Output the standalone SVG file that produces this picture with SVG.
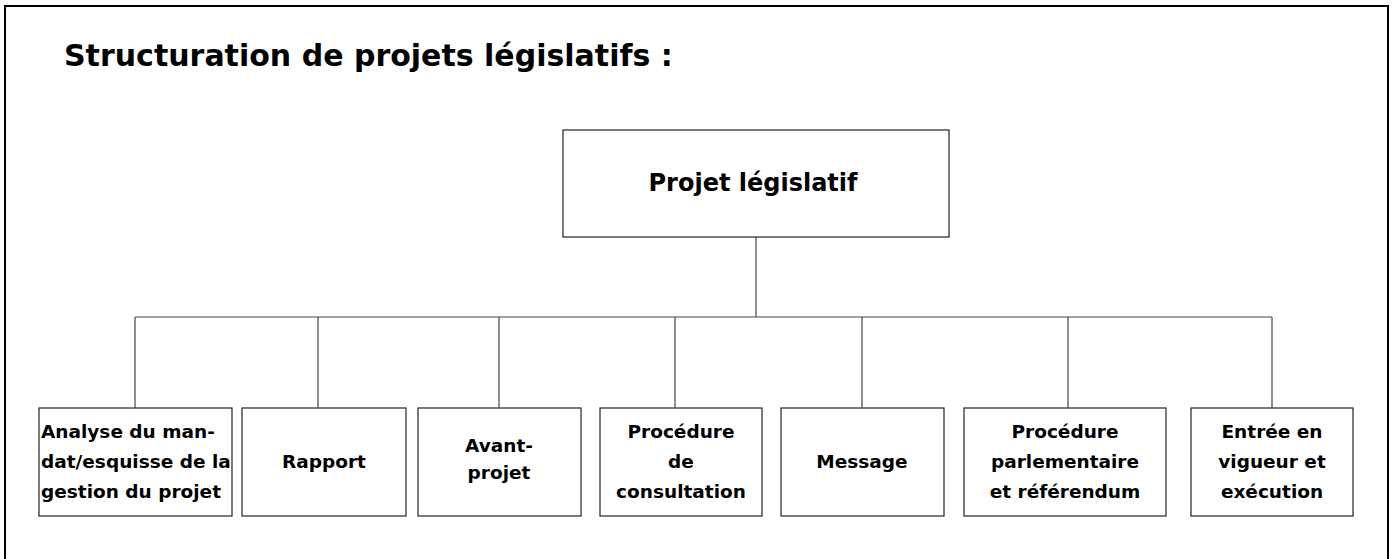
<svg xmlns="http://www.w3.org/2000/svg" width="1394" height="559" viewBox="0 0 1394 559">
<style>
.frame{fill:none;stroke:#000;stroke-width:2}
.box{fill:#fff;stroke:#333;stroke-width:1.3}
.ln{fill:none;stroke:#444;stroke-width:1.2}
.t{font-family:"DejaVu Sans","Verdana",sans-serif;font-weight:bold;font-size:18.5px;fill:#000;text-anchor:middle}
.l{text-anchor:start}
.title{font-family:"DejaVu Sans","Verdana",sans-serif;font-weight:bold;font-size:30px;fill:#000}
</style>
<rect class="frame" x="5" y="6" width="1383" height="570"/>
<text class="title" x="64" y="66">Structuration de projets législatifs :</text>
<g id="connectors">
<path class="ln" d="M756 237V317M135 317H1272M135 317V408M318 317V408M499 317V408M675 317V408M862 317V408M1068 317V408M1272 317V408"/>
</g>
<g id="root"><rect class="box" x="563" y="130" width="386" height="107"/><text class="t" x="753" y="191" font-size="24" style="font-size:24px">Projet législatif</text></g>
<g id="n1"><rect class="box" x="39" y="408" width="193" height="108"/>
<text class="t l" x="41" y="438">Analyse du man-</text>
<text class="t l" x="41" y="468">dat/esquisse de la</text>
<text class="t l" x="41" y="498">gestion du projet</text></g>
<g id="n2"><rect class="box" x="242" y="408" width="164" height="108"/><text class="t" x="324" y="468">Rapport</text></g>
<g id="n3"><rect class="box" x="418" y="408" width="163" height="108"/><text class="t" x="499" y="452">Avant-</text><text class="t" x="499" y="479">projet</text></g>
<g id="n4"><rect class="box" x="600" y="408" width="162" height="108"/><text class="t" x="681" y="438">Procédure</text><text class="t" x="681" y="468">de</text><text class="t" x="681" y="498">consultation</text></g>
<g id="n5"><rect class="box" x="781" y="408" width="163" height="108"/><text class="t" x="862" y="468">Message</text></g>
<g id="n6"><rect class="box" x="964" y="408" width="202" height="108"/><text class="t" x="1065" y="438">Procédure</text><text class="t" x="1065" y="468">parlementaire</text><text class="t" x="1065" y="498">et référendum</text></g>
<g id="n7"><rect class="box" x="1191" y="408" width="162" height="108"/><text class="t" x="1272" y="438">Entrée en</text><text class="t" x="1272" y="468">vigueur et</text><text class="t" x="1272" y="498">exécution</text></g>
</svg>
